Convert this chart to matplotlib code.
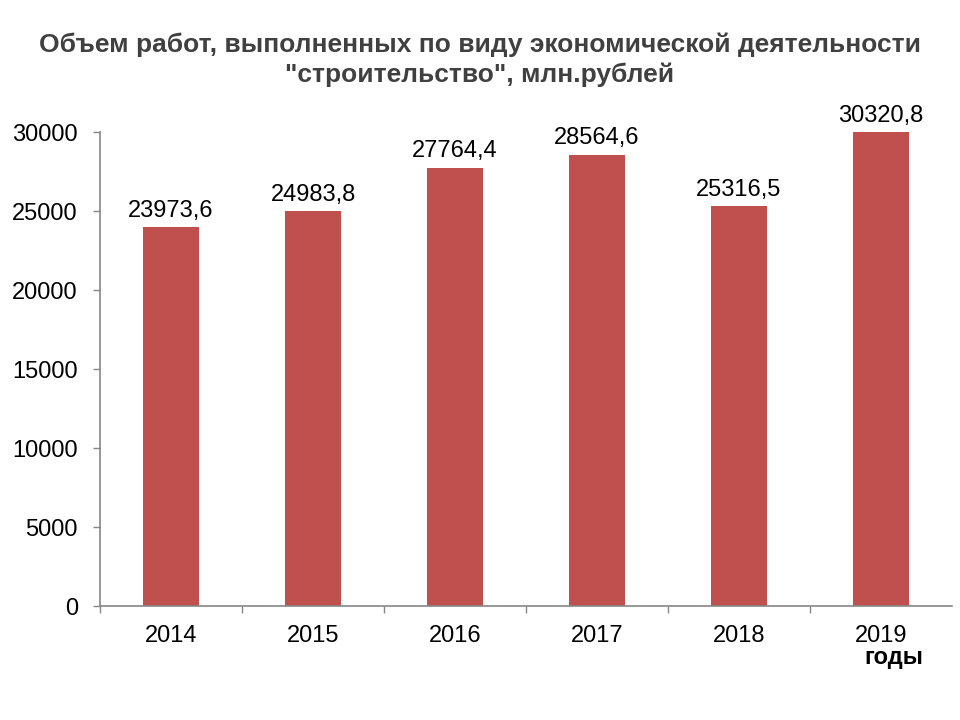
import numpy as np
import matplotlib.pyplot as plt
from matplotlib.ticker import FixedLocator, NullFormatter

plt.rcParams['font.family'] = ['Liberation Sans', 'DejaVu Sans']

years = ['2014', '2015', '2016', '2017', '2018', '2019']
volumes = [23973.6, 24983.8, 27764.4, 28564.6, 25316.5, 30320.8]
value_labels = ['23973,6', '24983,8', '27764,4', '28564,6', '25316,5', '30320,8']
yticks = [0, 5000, 10000, 15000, 20000, 25000, 30000]

BAR_COLOR = '#C0504D'
AXIS_COLOR = '#868686'

fig = plt.figure(figsize=(9.6, 7.2), dpi=100)
ax = fig.add_axes([0.1042, 0.1583, 0.8875, 0.658])

x = np.arange(len(years))
bars = ax.bar(x, volumes, width=0.4, color=BAR_COLOR, zorder=2)

ax.set_xlim(-0.5, len(years) - 0.5)
ax.set_ylim(0, 30000)

# value labels sit above the (clipped) bar tops
for xi, val, lab in zip(x, volumes, value_labels):
    ax.annotate(lab, (xi, min(val, 30000)), xytext=(0, 4), textcoords='offset points',
                ha='center', va='bottom', fontsize=17, color='black', annotation_clip=False)

ax.set_yticks(yticks)
ax.set_yticklabels([str(t) for t in yticks])
ax.set_xticks(x)
ax.set_xticklabels(years)
ax.xaxis.set_minor_locator(FixedLocator(np.arange(-0.5, len(years) - 0.5, 1.0)))
ax.xaxis.set_minor_formatter(NullFormatter())

ax.tick_params(axis='y', length=5, width=1, color=AXIS_COLOR, pad=11, labelsize=17)
ax.tick_params(axis='x', which='major', length=0, pad=14, labelsize=17)
ax.tick_params(axis='x', which='minor', length=5, width=1, color=AXIS_COLOR)

for side in ['top', 'right']:
    ax.spines[side].set_visible(False)
for side in ['left', 'bottom']:
    ax.spines[side].set_color(AXIS_COLOR)
    ax.spines[side].set_linewidth(1.2)

fig.text(0.5, 0.917, 'Объем работ, выполненных по виду экономической деятельности\n"строительство", млн.рублей',
         ha='center', va='center', fontsize=19, fontweight='bold', color='#404040', linespacing=1.3)
fig.text(0.931, 0.087, 'годы', ha='center', va='center', fontsize=17, fontweight='bold', color='black')

fig.savefig('out.png', dpi=100)
